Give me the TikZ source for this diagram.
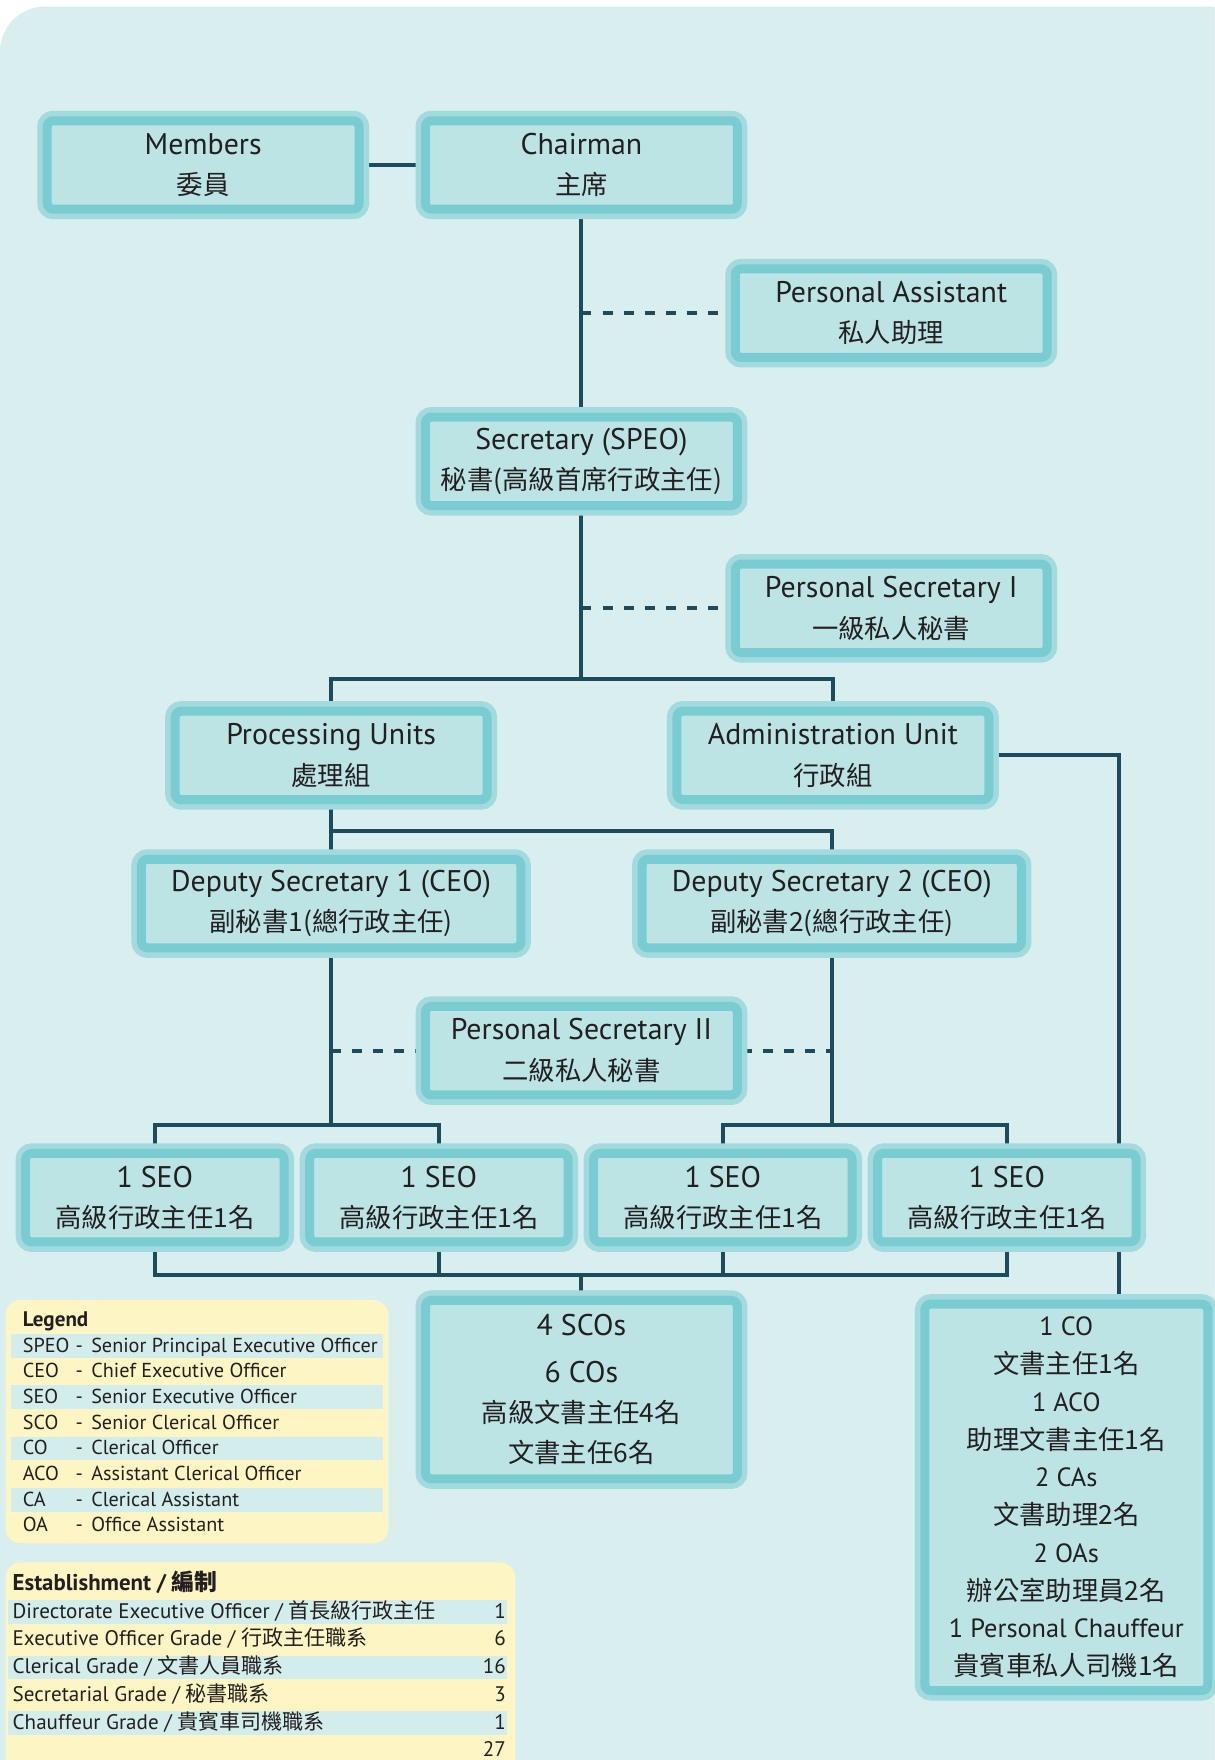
\documentclass[tikz,border=0pt]{standalone}
\usepackage{fontspec}
\setmainfont{PT Sans}
\newfontfamily\cjk{Noto Sans CJK TC}
\usetikzlibrary{positioning}
\definecolor{pagebg}{HTML}{D9EEEF}
\definecolor{boxout}{HTML}{A2DADD}
\definecolor{boxmid}{HTML}{79CDD2}
\definecolor{boxin}{HTML}{BDE4E5}
\definecolor{linkcol}{HTML}{1E4B5B}
\definecolor{notefill}{HTML}{FDF6C4}
\definecolor{stripe}{HTML}{D3ECEC}
\definecolor{ink}{HTML}{231F20}
\pgfdeclarelayer{bg}
\pgfdeclarelayer{links}
\pgfsetlayers{bg,links,main}
\newcommand{\zh}[1]{{\cjk\fontsize{15}{23}\selectfont #1}}
\newcommand{\zht}[1]{{\cjk #1}}
\tikzset{
  post/.style={rectangle,rounded corners=0.12cm,fill=boxin,draw=boxmid,line width=0.18cm,
    preaction={draw=boxout,line width=0.40cm},
    minimum width=6.24cm,minimum height=1.77cm,inner sep=0pt,align=center,text=ink,
    font=\fontsize{17}{23}\selectfont},
  widepost/.style={post,minimum width=7.59cm},
  seopost/.style={post,minimum width=5.17cm},
  link/.style={draw=linkcol,line width=2.3pt},
  dotlink/.style={link,dash pattern=on 5.7pt off 6.3pt},
  legtext/.style={inner sep=0pt,text=ink,font=\fontsize{11.5}{14}\selectfont},
  esttext/.style={inner sep=0pt,text=ink,font=\fontsize{12}{14}\selectfont},
}
\begin{document}
\begin{tikzpicture}[x=0.02246cm,y=-0.02246cm]
\useasboundingbox (0,0) rectangle (1082,1568);
\begin{pgfonlayer}{bg}
\fill[white] (0,0) rectangle (1082,1568);
\fill[pagebg] (0,1568) -- (0,46) arc[start angle=180,end angle=90,radius=0.9cm] -- (1082,6) -- (1082,1568) -- cycle;
\end{pgfonlayer}
% top of the chart
\node (members) [post] at (181,147) {Members\\\zh{委員}};
\node (chair) [post] at (518,147) {Chairman\\\zh{主席}};
\node (pa) [post] at (794,279) {Personal Assistant\\\zh{私人助理}};
\node (secr) [post] at (518,411) {Secretary (SPEO)\\\zh{秘書(高級首席行政主任)}};
\node (ps1) [post] at (794,542) {Personal Secretary I\\\zh{一級私人秘書}};
% units
\node (proc) [post] at (295,673) {Processing Units\\\zh{處理組}};
\node (admin) [post] at (742,673) {Administration Unit\\\zh{行政組}};
\node (dep1) [widepost] at (295,805) {Deputy Secretary 1 (CEO)\\\zh{副秘書1(總行政主任)}};
\node (dep2) [widepost] at (741,805) {Deputy Secretary 2 (CEO)\\\zh{副秘書2(總行政主任)}};
\node (ps2) [post] at (518,936) {Personal Secretary II\\\zh{二級私人秘書}};
% SEOs
\node (seoa) [seopost] at (138,1067) {1 SEO\\\zh{高級行政主任1名}};
\node (seob) [seopost] at (391,1067) {1 SEO\\\zh{高級行政主任1名}};
\node (seoc) [seopost] at (644,1067) {1 SEO\\\zh{高級行政主任1名}};
\node (seod) [seopost] at (897,1067) {1 SEO\\\zh{高級行政主任1名}};
\node (sco) [post,minimum height=3.57cm] at (518,1238) {4 SCOs\\[3.5pt]6 COs\\\zh{高級文書主任4名}\\\zh{文書主任6名}};
\node (misc) [post,minimum width=5.66cm,minimum height=7.73cm,font=\fontsize{15}{21.5}\selectfont] at (950,1334)
  {1 CO\\\zh{文書主任1名}\\1 ACO\\\zh{助理文書主任1名}\\2 CAs\\\zh{文書助理2名}\\2 OAs\\\zh{辦公室助理員2名}\\1 Personal Chauffeur\\\zh{貴賓車私人司機1名}};
%
\coordinate (split1) at (518,605);
\coordinate (split2) at (295,740);
\coordinate (split3) at (295,1002);
\coordinate (split4) at (741,1002);
\coordinate (join) at (518,1136);
\coordinate (admbend) at (997,673);
\begin{pgfonlayer}{links}
\path[link] (members) edge (chair);
\path[link] (chair) edge (secr);
\draw[dotlink] (pa -| chair) -- (pa.west);
\draw[link] (secr) -- (split1);
\draw[dotlink] (ps1 -| secr) -- (ps1.west);
\draw[link] (proc) |- (split1) -| (admin);
\draw[link] (proc) -- (dep1);
\draw[link] (split2) -| (dep2);
\draw[link] (admin) -- (admbend) -- (admbend |- misc.north);
\draw[link] (dep1) -- (split3);
\draw[link] (dep2) -- (split4);
\draw[link] (seoa) |- (split3) -| (seob);
\draw[link] (seoc) |- (split4) -| (seod);
\draw[dotlink] (dep1 |- ps2) -- (ps2.west);
\draw[dotlink] (ps2.east) -- (dep2 |- ps2);
\draw[link] (seoa) |- (seod |- join) -- (seod);
\foreach \s in {seob,seoc} \draw[link] (\s) -- (\s |- join);
\draw[link] (join) -- (sco);
\end{pgfonlayer}
% legend
\fill[notefill,rounded corners=0.3cm] (5,1158) rectangle (346,1375);
\node (leghead) [legtext,anchor=base west,font=\fontsize{12}{14}\selectfont\bfseries] at (20,1182) {Legend};
\foreach \ab/\txt [count=\i] in {SPEO/Senior Principal Executive Officer,CEO/Chief Executive Officer,
  SEO/Senior Executive Officer,SCO/Senior Clerical Officer,CO/Clerical Officer,
  ACO/Assistant Clerical Officer,CA/Clerical Assistant,OA/Office Assistant}{
  \pgfmathsetmacro\yy{1199+(\i-1)*22.9}
  \ifodd\i\relax \fill[stripe] (10,\yy-10.5) rectangle (341,\yy+10.5); \fi
  \node (lgab\i) [legtext,anchor=base west] at (20,\yy+5.5) {\ab};
  \node (lgdash\i) [legtext,anchor=base west] at (67,\yy+5.5) {-};
  \node (lgtxt\i) [legtext,anchor=base west] at (81,\yy+5.5) {\txt};
}
% establishment
\fill[notefill,rounded corners=0.3cm] (5,1392) rectangle (459,1600);
\node (esthead) [esttext,anchor=base west,font=\fontsize{13}{15}\selectfont\bfseries] at (11,1417) {Establishment / \zht{編制}};
\foreach \en/\cn/\num [count=\i] in {Directorate Executive Officer/首長級行政主任/1,
  Executive Officer Grade/行政主任職系/6,Clerical Grade/文書人員職系/16,
  Secretarial Grade/秘書職系/3,Chauffeur Grade/貴賓車司機職系/1}{
  \pgfmathsetmacro\yy{1436+(\i-1)*24.75}
  \ifodd\i\relax \fill[stripe] (7,\yy-10.5) rectangle (452,\yy+10.5); \fi
  \node (estrow\i) [esttext,anchor=base west] at (11,\yy+5.5) {\en{} / \zht{\cn}};
  \node (estnum\i) [esttext,anchor=base east] at (451,\yy+5.5) {\num};
}
\node (esttotal) [esttext,anchor=base east] at (451,1564.5) {27};
\end{tikzpicture}
\end{document}
